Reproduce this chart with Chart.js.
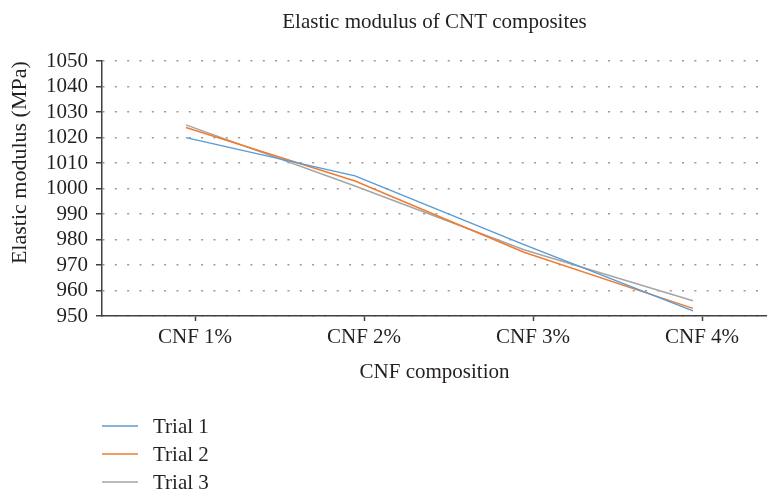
<!DOCTYPE html>
<html>
<head>
<meta charset="utf-8">
<script src="https://cdn.jsdelivr.net/npm/chart.js@4/dist/chart.umd.min.js"></script>
<style>
  html, body { margin: 0; padding: 0; background: #fff; }
  #wrap { width: 767px; height: 491px; }
</style>
</head>
<body>
<div id="wrap"><canvas id="chart"></canvas></div>
<script>
const categories = ['CNF 1%', 'CNF 2%', 'CNF 3%', 'CNF 4%'];
const trial1 = [1020, 1005, 978, 952];
const trial2 = [1024, 1003, 975, 953];
const trial3 = [1025, 1001, 976, 956];
const seriesNames = ['Trial 1', 'Trial 2', 'Trial 3'];
const seriesColors = ['#5b9bd5', '#ed7d31', '#a5a5a5'];

const FONT = "'Liberation Serif', 'DejaVu Serif', serif";
const TEXT = '#231f20';

// points of series i, one per category (x = category number)
function points(values) {
    return values.map((v, i) => ({ x: i + 1, y: v }));
}

// legend stacked in one column under the chart
const columnLegend = {
    id: 'columnLegend',
    afterDraw(chart) {
        const ctx = chart.ctx;
        ctx.save();
        ctx.font = '21px ' + FONT;
        ctx.textBaseline = 'middle';
        chart.data.datasets.forEach((ds, i) => {
            const y = 426 + i * 28;
            ctx.strokeStyle = ds.borderColor;
            ctx.lineWidth = 1.5;
            ctx.beginPath();
            ctx.moveTo(102, y);
            ctx.lineTo(138, y);
            ctx.stroke();
            ctx.fillStyle = TEXT;
            ctx.fillText(ds.label, 153, y + 1);
        });
        ctx.restore();
    }
};

const datasets = [trial1, trial2, trial3].map((vals, i) => ({
    label: seriesNames[i],
    data: points(vals),
    xAxisID: 'xd',
    borderColor: seriesColors[i],
    backgroundColor: seriesColors[i],
    borderWidth: 1.5,
    pointRadius: 0,
    tension: 0
}));

new Chart(document.getElementById('chart'), {
    type: 'line',
    data: { datasets },
    plugins: [columnLegend],
    options: {
        responsive: true,
        maintainAspectRatio: false,
        animation: false,
        layout: { padding: { left: 0, right: 0, top: 0, bottom: 100 } },
        plugins: {
            legend: { display: false },
            tooltip: { enabled: false },
            title: {
                display: true,
                fullSize: false,
                text: 'Elastic modulus of CNT composites',
                color: TEXT,
                font: { family: FONT, size: 21, weight: 'normal' },
                padding: { top: 10, bottom: 26 }
            }
        },
        scales: {
            x: {
                type: 'linear',
                position: 'bottom',
                min: 0.4497,
                max: 4.3846,
                afterBuildTicks: s => { s.ticks = categories.map((_, i) => ({ value: i + 1 })); },
                afterFit: s => { s.height = 75; },
                ticks: {
                    callback: v => categories[v - 1],
                    autoSkip: false,
                    color: TEXT,
                    font: { family: FONT, size: 21 },
                    padding: 4,
                    maxRotation: 0
                },
                grid: {
                    drawOnChartArea: false,
                    drawTicks: true,
                    tickLength: 5,
                    tickColor: '#404040',
                    tickWidth: 1.5
                },
                border: { color: '#404040', width: 1.5 },
                title: {
                    display: true,
                    text: 'CNF composition',
                    color: TEXT,
                    font: { family: FONT, size: 21 },
                    padding: { top: 0, bottom: 6 }
                }
            },
            xd: {
                type: 'linear',
                display: false,
                min: 0.503,
                max: 4.438
            },
            y: {
                min: 950,
                max: 1050,
                afterFit: s => { s.width = 102; },
                ticks: {
                    stepSize: 10,
                    autoSkip: false,
                    callback: v => String(v),
                    color: TEXT,
                    font: { family: FONT, size: 21 },
                    padding: 8
                },
                grid: {
                    color: '#999',
                    lineWidth: 1.5,
                    tickBorderDash: [],
                    tickColor: '#404040',
                    tickLength: 6,
                    tickWidth: 1.5
                },
                border: { color: '#404040', width: 1.5, dash: [2, 10.33] },
                title: {
                    display: true,
                    text: 'Elastic modulus (MPa)',
                    align: 'end',
                    color: TEXT,
                    font: { family: FONT, size: 22 },
                    padding: { top: 7, bottom: 0 }
                }
            }
        }
    }
});
</script>
</body>
</html>
